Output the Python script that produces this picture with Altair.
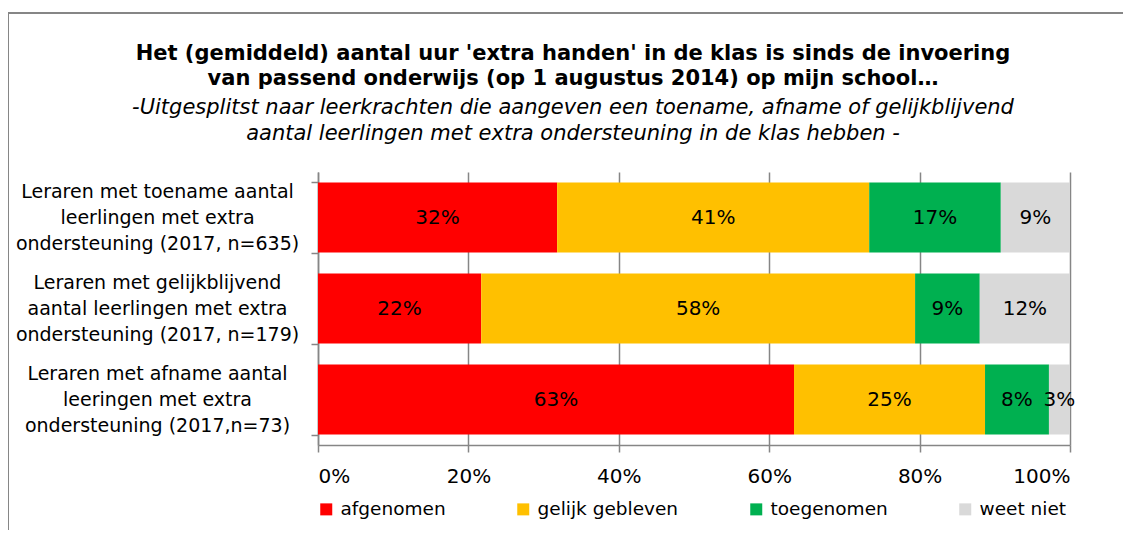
import altair as alt
import pandas as pd

groups = [
    "Leraren met toename aantal|leerlingen met extra|ondersteuning (2017, n=635)",
    "Leraren met gelijkblijvend|aantal leerlingen met extra|ondersteuning (2017, n=179)",
    "Leraren met afname aantal|leeringen met extra|ondersteuning (2017,n=73)",
]
categories = ["afgenomen", "gelijk gebleven", "toegenomen", "weet niet"]
colors = ["#FF0000", "#FFC000", "#00B050", "#D9D9D9"]
afgenomen = [31.8, 21.7, 63.3]
gelijk = [41.5, 57.7, 25.4]
toegenomen = [17.5, 8.6, 8.5]
weet_niet = [9.2, 12.0, 2.8]
labels_afgenomen = ["32%", "22%", "63%"]
labels_gelijk = ["41%", "58%", "25%"]
labels_toegenomen = ["17%", "9%", "8%"]
labels_weet_niet = ["9%", "12%", "3%"]

series = [afgenomen, gelijk, toegenomen, weet_niet]
label_series = [labels_afgenomen, labels_gelijk, labels_toegenomen, labels_weet_niet]
rows = []
for ci, (cat, vals, labs) in enumerate(zip(categories, series, label_series)):
    for g, v, l in zip(groups, vals, labs):
        rows.append({"groep": g, "antwoord": cat, "waarde": v / 100, "label": l, "volgorde": ci})
df = pd.DataFrame(rows)

FONT = "DejaVu Sans"
GREY = "#868686"

base = alt.Chart(df).encode(
    y=alt.Y(
        "groep:N",
        sort=groups,
        title=None,
        scale=alt.Scale(paddingInner=0.23, paddingOuter=0.115),
        axis=alt.Axis(
            labelExpr="split(datum.label, '|')",
            labelAlign="center",
            labelBaseline="middle",
            labelPadding=154,
            labelOffset=-26,
            labelFontSize=19,
            labelLineHeight=26,
            labelFont=FONT,
            labelColor="#000000",
            labelLimit=400,
            tickBand="extent",
            tickSize=7,
            tickColor=GREY,
            tickWidth=1.5,
            domainColor=GREY,
            domainWidth=1.5,
            grid=False,
        ),
    ),
    x=alt.X(
        "waarde:Q",
        stack="zero",
        title=None,
        scale=alt.Scale(domain=[0, 1], nice=False),
        axis=alt.Axis(
            format="%",
            values=[0, 0.2, 0.4, 0.6, 0.8, 1.0],
            labelFontSize=20,
            labelFont=FONT,
            labelColor="#000000",
            labelPadding=14,
            tickSize=7,
            tickColor=GREY,
            tickWidth=1.5,
            domainColor=GREY,
            domainWidth=1.5,
            grid=True,
            gridColor=GREY,
            gridWidth=1.5,
        ),
    ),
    order=alt.Order("volgorde:Q"),
)

bars = base.mark_bar().encode(
    color=alt.Color(
        "antwoord:N",
        sort=categories,
        scale=alt.Scale(domain=categories, range=colors),
        legend=alt.Legend(
            title=None,
            orient="none",
            legendX=-1,
            legendY=328,
            direction="horizontal",
            columns=4,
            symbolType="square",
            symbolSize=144,
            symbolStrokeWidth=0,
            labelFontSize=18.5,
            labelFont=FONT,
            labelColor="#000000",
            labelOffset=5,
            columnPadding=68,
            labelLimit=300,
        ),
    ),
)

text = base.mark_text(fontSize=20, font=FONT, color="#000000").encode(
    x=alt.X("mid:Q"),
    text="label:N",
).transform_stack(
    stack="waarde", groupby=["groep"], sort=[alt.SortField("volgorde")], as_=["x0", "x1"]
).transform_calculate(mid="(datum.x0 + datum.x1) / 2")

frame_top = alt.Chart(df).mark_rule(color=GREY, strokeWidth=2).encode(
    x=alt.value(-310), x2=alt.value(830), y=alt.value(-159)
)
frame_left = alt.Chart(df).mark_rule(color=GREY, strokeWidth=2).encode(
    x=alt.value(-310), y=alt.value(-159), y2=alt.value(400)
)

chart = alt.layer(bars, text, frame_top, frame_left).properties(
    width=752,
    height=273,
    autosize=alt.AutoSizeParams(type="none"),
    padding={"left": 310, "top": 164, "right": 53, "bottom": 85},
    title=alt.TitleParams(
        text=[
            "Het (gemiddeld) aantal uur 'extra handen' in de klas is sinds de invoering",
            "van passend onderwijs (op 1 augustus 2014) op mijn school…",
        ],
        subtitle=[
            "-Uitgesplitst naar leerkrachten die aangeven een toename, afname of gelijkblijvend",
            "aantal leerlingen met extra ondersteuning in de klas hebben -",
        ],
        anchor="middle",
        dx=-121,
        font=FONT,
        fontSize=21,
        fontWeight="bold",
        color="#000000",
        lineHeight=25,
        subtitleFont=FONT,
        subtitleFontSize=21,
        subtitleFontStyle="italic",
        subtitleColor="#000000",
        subtitleLineHeight=26,
        subtitlePadding=8,
        offset=-132,
    ),
).configure_view(stroke=None)

chart.save("out.html", embed_options={"renderer": "svg", "actions": False})
